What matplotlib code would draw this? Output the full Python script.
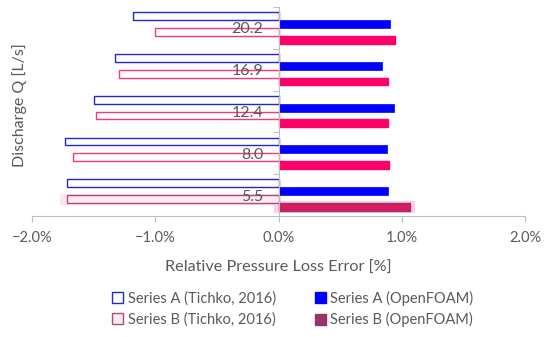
import matplotlib
matplotlib.use("Agg")
import matplotlib.pyplot as plt
import numpy as np
from matplotlib.patches import Patch
from matplotlib.transforms import blended_transform_factory, offset_copy

plt.rcParams['font.family'] = ['Lato', 'DejaVu Sans']

categories = ["5.5", "8.0", "12.4", "16.9", "20.2"]
a_tichko = [-1.72, -1.73, -1.50, -1.33, -1.18]
a_openfoam = [0.886, 0.884, 0.937, 0.84, 0.905]
b_tichko = [-1.714, -1.67, -1.48, -1.295, -1.00]
b_openfoam = [1.067, 0.897, 0.886, 0.892, 0.946]

blue = "#0000FF"
blue_edge = "#2626C8"
pink = "#FF0066"
pink_edge = "#FF3377"
gray = "#595959"
sel_face = "#D81B60"
sel_edge = "#993366"
glow = "#F9CFEA"

fig = plt.figure(figsize=(5.5, 3.37), dpi=100)
ax = fig.add_axes([32/550, 1-216/337, (525-32)/550, (216-7)/337])

y = np.arange(len(categories))
w = 0.1875

# highlighted (selected) point styling for the first category of Series B
bt_face = ["#FCEAF3"] + ["white"] * (len(categories) - 1)
bt_edge = ["#B04A78"] + [pink_edge] * (len(categories) - 1)
bo_face = [sel_face] + [pink] * (len(categories) - 1)
bo_edge = [sel_edge] + [pink] * (len(categories) - 1)

# glow behind selected bars
ax.barh(y[0] - 1.5*w, b_openfoam[0] + 0.08, left=-0.04, height=w*1.6, color=glow, linewidth=0, zorder=1)
ax.barh(y[0] - 0.5*w, b_tichko[0] - 0.06, left=0.0, height=w*1.4, color="#FCE4F2", linewidth=0, zorder=1)

ax.barh(y + 1.5*w, a_tichko, height=w, facecolor="white", edgecolor=blue_edge, linewidth=1.0, zorder=2)
ax.barh(y + 0.5*w, a_openfoam, height=w, facecolor=blue, edgecolor=blue, linewidth=0.5, zorder=2)
ax.barh(y - 0.5*w, b_tichko, height=w, facecolor=bt_face, edgecolor=bt_edge, linewidth=1.0, zorder=2)
ax.barh(y - 1.5*w, b_openfoam, height=w, facecolor=bo_face, edgecolor=bo_edge, linewidth=1.0, zorder=2)

ax.set_xlim(-2.0, 2.0)
ax.set_ylim(-0.5, len(categories) - 0.5)
ax.set_xticks([-2, -1, 0, 1, 2])
ax.set_xticklabels(["\u22122.0%", "\u22121.0%", "0.0%", "1.0%", "2.0%"])
ax.tick_params(axis='x', colors="#BFBFBF", labelcolor=gray, labelsize=10.5, length=4, pad=7)

for s in ['top', 'right']:
    ax.spines[s].set_visible(False)
ax.spines['bottom'].set_color("#BFBFBF")
ax.spines['left'].set_position(('data', 0))
ax.spines['left'].set_color("#BFBFBF")
ax.spines['left'].set_zorder(3)
ax.set_yticks(np.arange(len(categories)) + 0.5)
ax.set_yticklabels([])
ax.tick_params(axis='y', colors="#BFBFBF", length=4)

trans = offset_copy(blended_transform_factory(ax.transData, ax.transData), fig=fig, x=-15, y=-1.5, units='dots')
for i, c in enumerate(categories):
    ax.text(0, i, c, transform=trans, ha='right', va='center', fontsize=11.5, color=gray, zorder=4)

ax.set_xlabel("Relative Pressure Loss Error [%]", fontsize=11.7, color=gray, labelpad=11)
fig.text(20/550, 1-105/337, "Discharge Q [L/s]", rotation=90, ha='center', va='center', fontsize=11.5, color=gray)

handles = [
    Patch(facecolor="white", edgecolor=blue_edge, label="Series A (Tichko, 2016)"),
    Patch(facecolor="#FCEAF3", edgecolor="#B04A78", label="Series B (Tichko, 2016)"),
    Patch(facecolor=blue, edgecolor=blue, label="Series A (OpenFOAM)"),
    Patch(facecolor=sel_edge, edgecolor=sel_edge, label="Series B (OpenFOAM)"),
]
leg = fig.legend(handles=handles, ncol=2, loc='center', bbox_to_anchor=(293/550, 1-309/337),
                 frameon=False, fontsize=10.5, handlelength=0.75, handleheight=0.75,
                 handletextpad=0.3, columnspacing=2.7, labelspacing=0.45)
for t in leg.get_texts():
    t.set_color(gray)

fig.savefig("out.png", dpi=100)
